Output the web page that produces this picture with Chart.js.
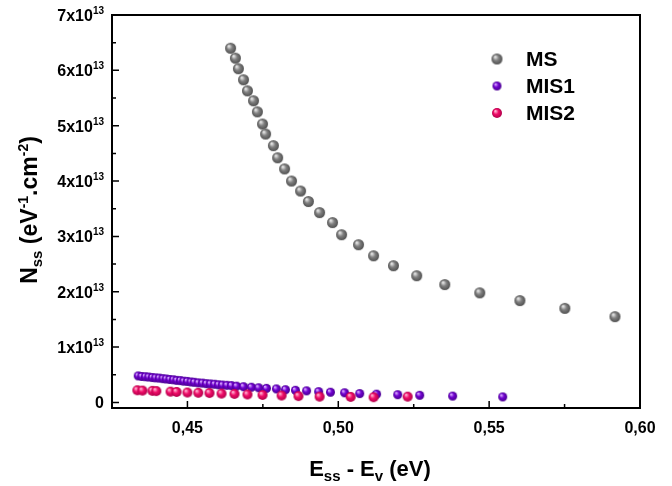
<!DOCTYPE html>
<html lang="en">
<head>
    <meta charset="UTF-8">
    <title>Nss vs Ess - Ev</title>
    <script src="https://cdn.jsdelivr.net/npm/chart.js"></script>
    <style>
        body { margin: 0; background: #fff; }
        #wrap { width: 672px; height: 486px; }
    </style>
</head>
<body>
    <div id="wrap"><canvas id="myChart" width="672" height="486"></canvas></div>

    <script>
        // E_ss - E_v (eV) and N_ss (in units of 1e13 eV^-1.cm^-2)
        const msX = [0.4643, 0.4659, 0.4669, 0.4686, 0.4699, 0.4719, 0.4732, 0.4749, 0.4759, 0.4785,
            0.4799, 0.4822, 0.4845, 0.4875, 0.4901, 0.4938, 0.4981, 0.5011, 0.5067, 0.5117,
            0.5183, 0.5260, 0.5353, 0.5469, 0.5602, 0.5751, 0.5917];
        const msY = [6.40, 6.22, 6.03, 5.83, 5.63, 5.45, 5.25, 5.03, 4.85, 4.64,
            4.42, 4.22, 4.00, 3.82, 3.63, 3.43, 3.25, 3.03, 2.85, 2.65,
            2.47, 2.29, 2.13, 1.98, 1.84, 1.70, 1.55];

        const mis1X = [0.4337, 0.4349, 0.4361, 0.4372, 0.4384, 0.4395, 0.4407, 0.4419, 0.4430, 0.4442,
            0.4454, 0.4465, 0.4477, 0.4488, 0.4500, 0.4512, 0.4523, 0.4536, 0.4550, 0.4563,
            0.4576, 0.4590, 0.4603, 0.4616, 0.4631, 0.4646, 0.4663, 0.4686, 0.4712, 0.4736,
            0.4762, 0.4795, 0.4825, 0.4858, 0.4895, 0.4935, 0.4974, 0.5021, 0.5071, 0.5127,
            0.5197, 0.5270, 0.5379, 0.5545];
        const mis1Y = [0.48, 0.47, 0.465, 0.46, 0.45, 0.445, 0.44, 0.43, 0.425, 0.415,
            0.41, 0.40, 0.395, 0.385, 0.38, 0.37, 0.365, 0.355, 0.35, 0.34,
            0.335, 0.33, 0.32, 0.315, 0.31, 0.305, 0.295, 0.285, 0.275, 0.265,
            0.255, 0.245, 0.23, 0.22, 0.21, 0.195, 0.185, 0.175, 0.16, 0.15,
            0.14, 0.13, 0.115, 0.10];

        const mis2X = [0.4334, 0.4351, 0.4384, 0.4397, 0.4444, 0.4464, 0.4500, 0.4536, 0.4573, 0.4613,
            0.4656, 0.4699, 0.4749, 0.4812, 0.4868, 0.4938, 0.5041, 0.5117, 0.5230];
        const mis2Y = [0.22, 0.215, 0.21, 0.205, 0.195, 0.19, 0.18, 0.175, 0.17, 0.16,
            0.155, 0.145, 0.135, 0.125, 0.115, 0.105, 0.10, 0.095, 0.105];

        const xTicks = [0.45, 0.50, 0.55, 0.60];
        const xMinor = [0.475, 0.525, 0.575];
        const yTicks = [0, 1, 2, 3, 4, 5, 6, 7];
        const yMinor = [0.5, 1.5, 2.5, 3.5, 4.5, 5.5, 6.5];

        const FONT = '"Liberation Sans", Arial, sans-serif';

        // little shaded ball used as the marker
        function ball(r, base, light, dark) {
            const c = document.createElement('canvas');
            c.width = c.height = r * 2 + 2;
            const g = c.getContext('2d');
            const cx = r + 1, cy = r + 1;
            const grad = g.createRadialGradient(cx - r * 0.35, cy - r * 0.4, r * 0.1, cx, cy, r);
            grad.addColorStop(0, light);
            grad.addColorStop(0.45, base);
            grad.addColorStop(1, dark);
            g.fillStyle = grad;
            g.beginPath();
            g.arc(cx, cy, r, 0, Math.PI * 2);
            g.fill();
            return c;
        }

        const series = [
            { label: 'MS', xs: msX, ys: msY, img: ball(5.5, '#808080', '#e6e6e6', '#505050') },
            { label: 'MIS1', xs: mis1X, ys: mis1Y, img: ball(4.5, '#7000d0', '#d8a8ff', '#4a0090') },
            { label: 'MIS2', xs: mis2X, ys: mis2Y, img: ball(5, '#f00c68', '#ffb0d0', '#b0004a') }
        ];

        function richWidth(ctx, parts) {
            let w = 0;
            parts.forEach(p => { ctx.font = 'bold ' + p.s + 'px ' + FONT; w += ctx.measureText(p.t).width; });
            return w;
        }

        function drawRich(ctx, parts, x, y, align) {
            const w = richWidth(ctx, parts);
            let cx = align === 'center' ? x - w / 2 : align === 'right' ? x - w : x;
            ctx.textBaseline = 'alphabetic';
            ctx.textAlign = 'left';
            parts.forEach(p => {
                ctx.font = 'bold ' + p.s + 'px ' + FONT;
                ctx.fillText(p.t, cx, y + (p.dy || 0));
                cx += ctx.measureText(p.t).width;
            });
        }

        const decor = {
            id: 'decor',
            afterDraw(chart) {
                const { ctx, chartArea: a, scales: { x, y } } = chart;
                ctx.save();
                ctx.strokeStyle = '#000';
                ctx.fillStyle = '#000';
                ctx.lineWidth = 2;
                ctx.strokeRect(a.left, a.top, a.right - a.left, a.bottom - a.top);

                ctx.lineWidth = 1.5;
                ctx.beginPath();
                xTicks.forEach(v => { const p = x.getPixelForValue(v); ctx.moveTo(p, a.bottom); ctx.lineTo(p, a.bottom - 7); });
                xMinor.forEach(v => { const p = x.getPixelForValue(v); ctx.moveTo(p, a.bottom); ctx.lineTo(p, a.bottom - 4); });
                yTicks.forEach(v => { const p = y.getPixelForValue(v); ctx.moveTo(a.left, p); ctx.lineTo(a.left + 7, p); });
                yMinor.forEach(v => { const p = y.getPixelForValue(v); ctx.moveTo(a.left, p); ctx.lineTo(a.left + 4, p); });
                ctx.stroke();

                // y tick labels with real superscripts
                yTicks.forEach(v => {
                    const p = y.getPixelForValue(v) + 6;
                    const parts = v === 0 ? [{ t: '0', s: 16 }]
                        : [{ t: v + 'x10', s: 16 }, { t: '13', s: 10, dy: -7 }];
                    drawRich(ctx, parts, a.left - 8, p, 'right');
                });

                // legend
                series.forEach((s, i) => {
                    const ly = 59 + i * 27;
                    ctx.drawImage(s.img, 497 - s.img.width / 2, ly - s.img.height / 2);
                    ctx.font = 'bold 21px ' + FONT;
                    ctx.textBaseline = 'middle';
                    ctx.textAlign = 'left';
                    ctx.fillText(s.label, 526, ly + 1);
                });

                // axis titles
                drawRich(ctx, [
                    { t: 'E', s: 22 }, { t: 'ss', s: 15, dy: 5 }, { t: ' - E', s: 22 },
                    { t: 'v', s: 15, dy: 5 }, { t: ' (eV)', s: 22 }
                ], 370, 476, 'center');

                ctx.save();
                ctx.translate(37, 210);
                ctx.rotate(-Math.PI / 2);
                drawRich(ctx, [
                    { t: 'N', s: 23 }, { t: 'ss', s: 15, dy: 5 }, { t: ' (eV', s: 23 },
                    { t: '-1', s: 14, dy: -9 }, { t: '.cm', s: 23 }, { t: '-2', s: 14, dy: -9 },
                    { t: ')', s: 23 }
                ], 0, 0, 'center');
                ctx.restore();
                ctx.restore();
            }
        };

        const ctx = document.getElementById('myChart').getContext('2d');
        new Chart(ctx, {
            type: 'scatter',
            data: {
                datasets: series.map((s, i) => ({
                    label: s.label,
                    data: s.xs.map((v, k) => ({ x: v, y: s.ys[k] })),
                    pointStyle: s.img,
                    order: 3 - i
                }))
            },
            options: {
                responsive: false,
                animation: false,
                layout: { padding: { top: 15, right: 32, left: 0, bottom: 0 } },
                plugins: { legend: { display: false }, tooltip: { enabled: false } },
                scales: {
                    x: {
                        type: 'linear',
                        min: 0.425,
                        max: 0.60,
                        afterBuildTicks: s => { s.ticks = xTicks.map(v => ({ value: v })); },
                        afterFit: s => { s.height = 78; },
                        grid: { display: false, drawTicks: false },
                        border: { display: false },
                        ticks: {
                            padding: 11,
                            color: '#000',
                            font: { family: FONT, size: 16, weight: 'bold' },
                            callback: v => v.toFixed(2).replace('.', ',')
                        }
                    },
                    y: {
                        type: 'linear',
                        min: -0.1,
                        max: 7,
                        afterBuildTicks: s => { s.ticks = yTicks.map(v => ({ value: v })); },
                        afterFit: s => { s.width = 112; },
                        grid: { display: false, drawTicks: false },
                        border: { display: false },
                        ticks: { display: false }
                    }
                }
            },
            plugins: [decor]
        });
    </script>
</body>
</html>
